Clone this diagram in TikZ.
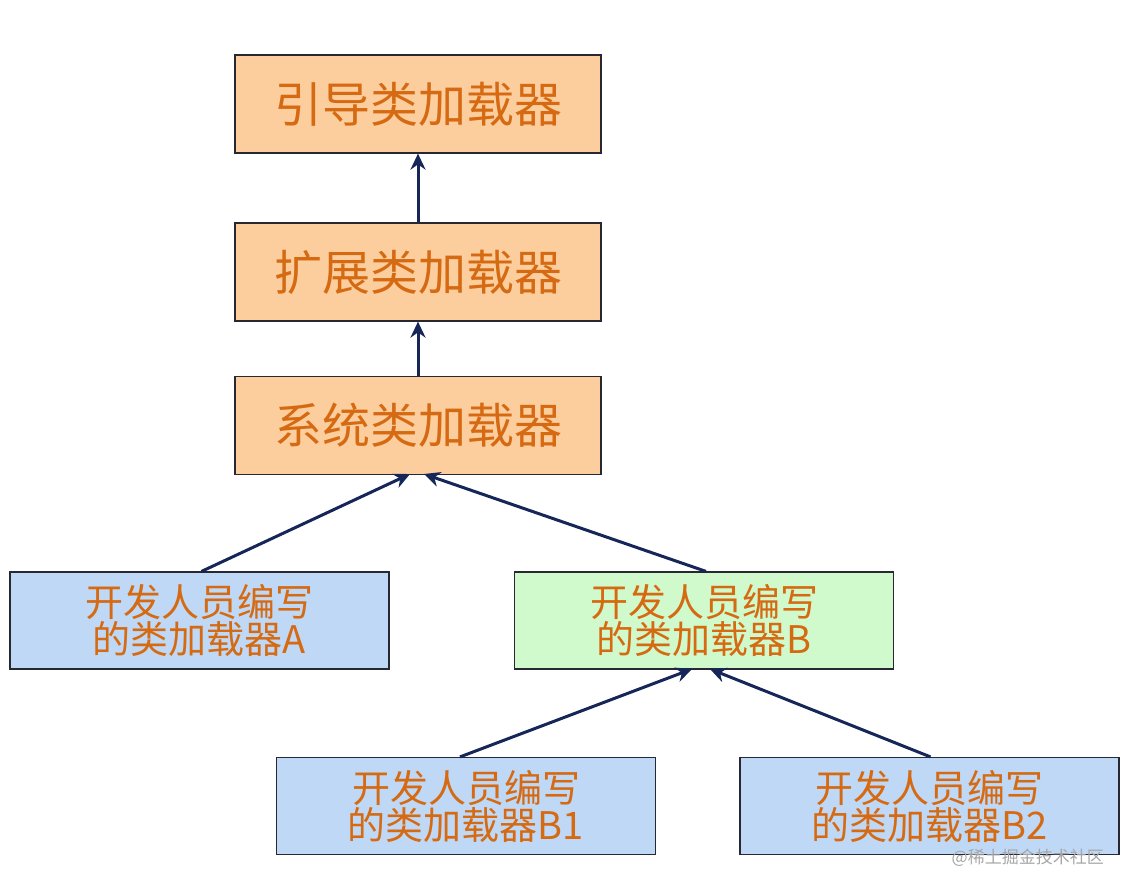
\documentclass[tikz,border=0pt]{standalone}
\usepackage{fontspec}
\newfontfamily\cjk{Noto Sans CJK SC}
\usetikzlibrary{arrows.meta}
\definecolor{orfill}{RGB}{252,206,158}
\definecolor{blfill}{RGB}{190,216,246}
\definecolor{grfill}{RGB}{208,250,204}
\definecolor{txt}{RGB}{214,106,18}
\definecolor{navy}{RGB}{22,38,88}
\definecolor{edge}{RGB}{40,40,50}
\tikzset{
  box/.style={draw=edge, line width=1.2pt, minimum width=#1, inner sep=0pt, align=center, text=txt, font=\cjk},
  big/.style={box=366pt, minimum height=98pt, fill=orfill, font=\cjk\fontsize{48}{52}\selectfont},
  small/.style={box=379pt, minimum height=97pt, font=\cjk\fontsize{38}{37}\selectfont},
  conn/.style={draw=navy, line width=3pt, -{Stealth[length=16pt,width=15pt]}},
}
\begin{document}
\begin{tikzpicture}[x=1pt,y=-1pt]
\useasboundingbox (0,0) rectangle (1128,892);
\node[big] (boot) at (418,104) {引导类加载器};
\node[big] (ext) at (418,272) {扩展类加载器};
\node[big] (sys) at (418,425.5) {系统类加载器};
\node[small, fill=blfill] (a) at (199.5,620.5) {开发人员编写\\的类加载器A};
\node[small, fill=grfill] (b) at (704,620.5) {开发人员编写\\的类加载器B};
\node[small, fill=blfill] (b1) at (466,806) {开发人员编写\\的类加载器B1};
\node[small, fill=blfill] (b2) at (929.5,806) {开发人员编写\\的类加载器B2};
\coordinate (sysL) at (410,474);
\coordinate (sysR) at (424,474);
\coordinate (bL) at (692,669);
\coordinate (bR) at (710,669);
\draw[conn] (ext.north) -- (boot.south);
\draw[conn] (sys.north) -- (ext.south);
\draw[conn] ([xshift=2pt]a.north) -- (sysL);
\draw[conn] ([xshift=2pt]b.north) -- (sysR);
\draw[conn] ([xshift=-6pt]b1.north) -- (bL);
\draw[conn] ([xshift=1pt]b2.north) -- (bR);
\node[text=gray!70, font=\cjk\fontsize{17}{20}\selectfont, anchor=east, inner sep=0pt] (wm) at (1104,858) {@稀土掘金技术社区};
\end{tikzpicture}
\end{document}
